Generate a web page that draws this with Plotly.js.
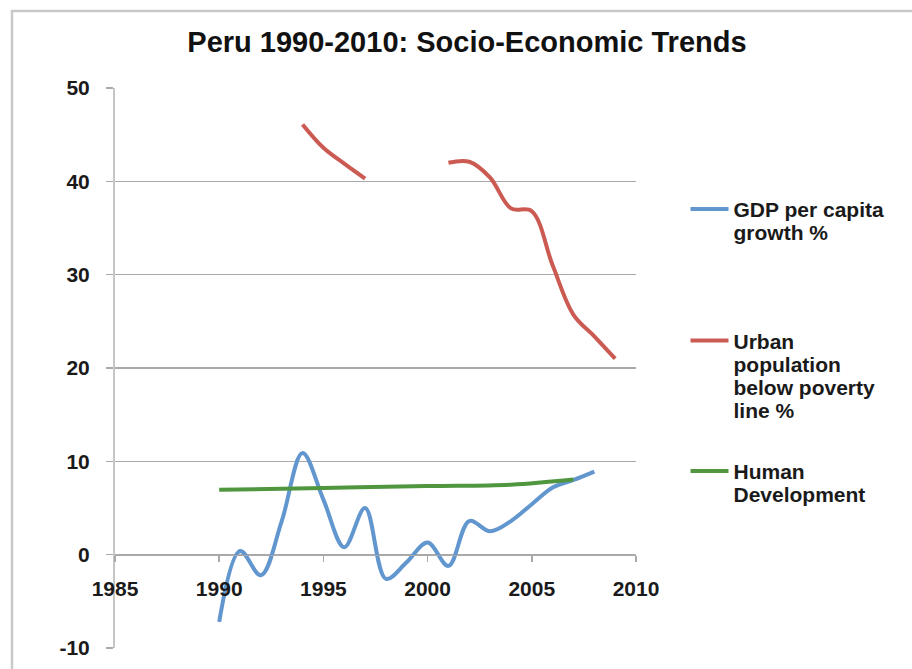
<!DOCTYPE html>
<html>
<head>
<meta charset="utf-8">
<script src="https://cdn.plot.ly/plotly-3.0.1.min.js"></script>
<style>html,body{margin:0;padding:0;background:#fff;}#chart{width:912px;height:669px;}</style>
</head>
<body>
<div id="chart"></div>
<script>
// Data
var years = [1990,1991,1992,1993,1994,1995,1996,1997,1998,1999,2000,2001,2002,2003,2004,2005,2006,2007,2008,2009];
var gdpGrowth = [-7.2,0.4,-2.2,3.6,10.9,5.9,0.8,5.0,-2.6,-0.8,1.3,-1.2,3.6,2.5,3.6,5.4,7.2,8.0,8.9,null];
var urbanPoverty = [null,null,null,null,46.1,43.6,41.9,40.3,null,null,null,42.0,42.1,40.4,37.1,36.8,31.0,25.7,23.4,21.0];
var humanDev = [6.95,null,null,null,null,7.15,null,null,null,null,7.35,null,null,null,7.5,null,null,8.05,null,null];
var seriesNames = ['GDP per capita<br>growth %','Urban<br>population<br>below poverty<br>line %','Human<br>Development'];
var xTicks = [1985,1990,1995,2000,2005,2010];
var yTicks = [-10,0,10,20,30,40,50];

var F = 'Liberation Sans, Arial, Helvetica, sans-serif';
function clean(xs, ys){var a=[],b=[];for(var i=0;i<xs.length;i++){if(ys[i]!==null){a.push(xs[i]);b.push(ys[i]);}}return [a,b];}
var hd = clean(years, humanDev);
var gd = clean(years, gdpGrowth);

var traces = [
  {x: gd[0], y: gd[1], name: seriesNames[0], mode:'lines', line:{color:'#6196cf', width:4, shape:'spline', smoothing:1}, legend:'legend'},
  {x: years, y: urbanPoverty, name: seriesNames[1], mode:'lines', connectgaps:false, line:{color:'#cb5a52', width:4, shape:'spline', smoothing:1}, legend:'legend2'},
  {x: hd[0], y: hd[1], name: seriesNames[2], mode:'lines', line:{color:'#4f963f', width:4, shape:'spline', smoothing:1}, legend:'legend3'}
];

var legBase = {font:{family:F, size:21, color:'#1a1a1a', weight:'bold'}, bgcolor:'rgba(0,0,0,0)', xanchor:'left', yanchor:'top', valign:'top', itemwidth:38, itemclick:false};
function leg(x, y){var o = JSON.parse(JSON.stringify(legBase)); o.x=x; o.y=y; return o;}

var layout = {
  width:912, height:669,
  paper_bgcolor:'#ffffff', plot_bgcolor:'#ffffff',
  margin:{l:115, r:276, t:88, b:21},
  title:{text:'Peru 1990-2010: Socio-Economic Trends', font:{family:F, size:29, color:'#111', weight:'bold'}, x:0.512, xanchor:'center', y:0.937, yanchor:'middle'},
  showlegend:true,
  legend: leg(1.095, 0.82),
  legend2: leg(1.095, 0.585),
  legend3: leg(1.095, 0.352),
  xaxis:{range:[1985,2010], tickvals:xTicks, ticktext:xTicks.map(String), anchor:'free', position:10/60,
    showline:true, linecolor:'#a9a9a9', linewidth:1.5, ticks:'outside', ticklen:6, tickcolor:'#a9a9a9', tickwidth:1.5,
    showgrid:false, zeroline:false, ticklabelstandoff:9,
    tickfont:{family:F, size:21, color:'#1a1a1a', weight:'bold'}, automargin:false, fixedrange:true},
  yaxis:{range:[-10,50], tickvals:yTicks, ticktext:yTicks.map(String),
    showline:true, linecolor:'#c6c6c6', linewidth:2, ticks:'outside', ticklen:7, tickcolor:'#a9a9a9', tickwidth:1.5,
    showgrid:true, gridcolor:'#a9a9a9', gridwidth:1.3, zeroline:false, ticklabelstandoff:12,
    tickfont:{family:F, size:21, color:'#1a1a1a', weight:'bold'}, automargin:false, fixedrange:true},
  shapes:[{type:'rect', xref:'paper', yref:'paper', x0:(12-115)/521, x1:(930-115)/521, y0:(648-690)/560, y1:(648-11)/560,
    line:{color:'#c9c9c9', width:2.5}, fillcolor:'rgba(0,0,0,0)', layer:'below'}]
};

Plotly.newPlot('chart', traces, layout, {displayModeBar:false, staticPlot:true}).then(function(){
  // tighten legend line spacing (Plotly uses cumulative 1.3em offsets) to match the reference
  var el = document.getElementById('chart');
  var tl = el.querySelectorAll('text.legendtext tspan.line, text.legend2text tspan.line, text.legend3text tspan.line');
  tl.forEach(function(t){
    var dy = t.getAttribute('dy');
    if(dy){ var v = parseFloat(dy); if(v > 0){ t.setAttribute('dy', (v / 1.3 * 1.1).toFixed(3) + 'em'); } }
  });
});
</script>
</body>
</html>
